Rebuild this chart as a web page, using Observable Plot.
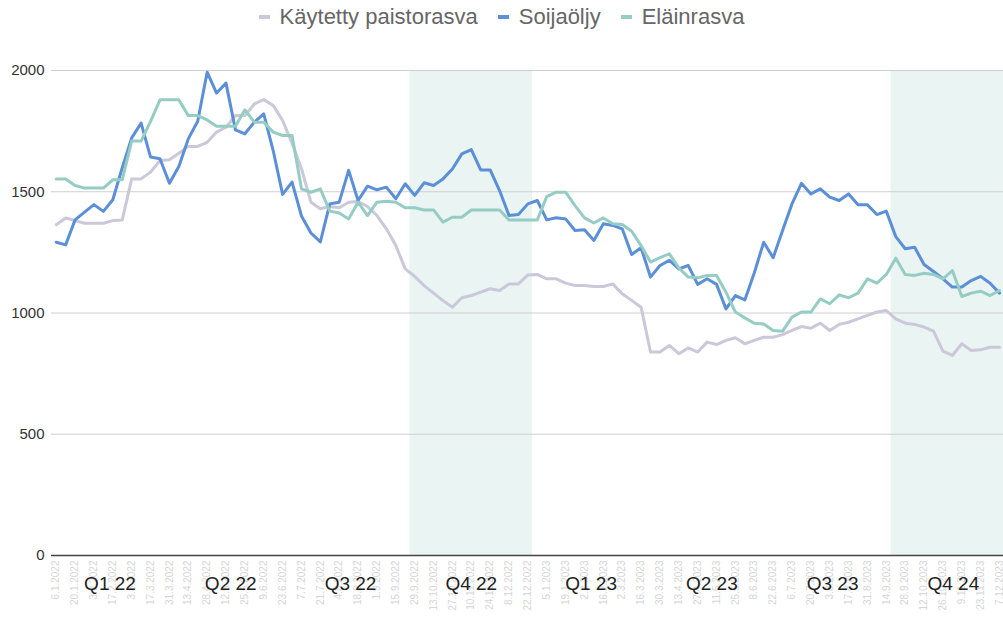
<!DOCTYPE html>
<html>
<head>
<meta charset="utf-8">
<script src="https://cdn.jsdelivr.net/npm/d3@7"></script>
<script src="https://cdn.jsdelivr.net/npm/@observablehq/plot@0.6"></script>
<style>
  body { margin: 0; background: #fff; font-family: "Liberation Sans", Arial, sans-serif; }
  #legend { height: 40px; display: flex; justify-content: center; align-items: center; padding-bottom: 6px; box-sizing: border-box; }
  .item { display: flex; align-items: center; margin: 0 10px; font-size: 22px; color: #666; }
  .sw { display: inline-block; width: 11px; height: 4px; margin-right: 10px; }
</style>
</head>
<body>
<div id="legend"></div>
<div id="chart"></div>
<script>
// Series names and colours
const seriesNames = ["Käytetty paistorasva", "Soijaöljy", "Eläinrasva"];
const seriesColors = ["#cac8d9", "#5b8fd8", "#95cdc4"];

// Weekly values, week index 0..100
const kaytettyPaistorasva = [
  1364,1392,1381,1370,1370,1370,1381,1384,1553,1553,1581,1629,1632,1659,1687,1687,1704,1746,1766,1814,1814,1862,1880,1856,1794,1700,
  1595,1457,1430,1439,1434,1457,1460,1439,1402,1347,1278,1182,1151,1113,1082,1051,1024,1063,1072,1086,1100,1093,1120,1120,
  1157,1159,1141,1141,1123,1113,1113,1109,1109,1120,1079,1052,1024,839,839,866,832,856,839,880,870,887,898,873,887,
  900,900,911,928,944,937,958,928,953,962,976,990,1004,1010,976,958,953,942,925,843,825,873,845,848,859,859
];
const soijaoljy = [
  1292,1281,1384,1416,1447,1419,1467,1599,1722,1783,1643,1636,1535,1604,1718,1791,1993,1907,1948,1755,1739,1787,1821,1670,1489,1540,
  1400,1330,1293,1450,1457,1588,1464,1523,1508,1519,1471,1533,1485,1537,1526,1553,1594,1656,1674,1590,1590,1505,1402,1406,
  1450,1464,1384,1393,1388,1340,1343,1299,1368,1361,1347,1241,1269,1148,1196,1217,1182,1196,1118,1141,1118,1017,1072,1054,1165,
  1292,1228,1340,1450,1535,1491,1512,1478,1464,1491,1446,1446,1406,1420,1315,1265,1271,1200,1171,1141,1107,1107,1134,1151,1123,1082
];
const elainrasva = [
  1553,1553,1526,1515,1515,1515,1549,1549,1709,1709,1790,1879,1879,1879,1814,1814,1796,1770,1770,1770,1838,1787,1787,1746,1732,1732,
  1512,1498,1512,1420,1412,1388,1457,1402,1457,1461,1457,1434,1434,1425,1425,1375,1395,1395,1425,1425,1425,1425,1384,1384,
  1384,1384,1480,1498,1498,1443,1392,1371,1392,1368,1365,1337,1278,1210,1228,1244,1186,1148,1145,1155,1155,1086,1004,980,958,955,
  928,925,983,1004,1004,1058,1038,1075,1063,1082,1141,1123,1159,1226,1159,1155,1164,1159,1141,1175,1068,1082,1090,1072,1093
];

// Tick labels (every second week)
const weekLabels = [
  "6.1.2022","20.1.2022","3.2.2022","17.2.2022","3.3.2022","17.3.2022","31.3.2022","13.4.2022","28.4.2022","12.5.2022",
  "25.5.2022","9.6.2022","23.6.2022","7.7.2022","21.7.2022","4.8.2022","18.8.2022","1.9.2022","15.9.2022","29.9.2022",
  "13.10.2022","27.10.2022","10.11.2022","24.11.2022","8.12.2022","22.12.2022","5.1.2023","19.1.2023","2.2.2023","16.2.2023",
  "2.3.2023","16.3.2023","30.3.2023","13.4.2023","27.4.2023","11.5.2023","25.5.2023","8.6.2023","22.6.2023","6.7.2023",
  "20.7.2023","3.8.2023","17.8.2023","31.8.2023","14.9.2023","28.9.2023","12.10.2023","26.10.2023","9.11.2023","23.11.2023",
  "7.12.2023"
];

// Quarter labels and the week index ranges they cover
const quarterNames = ["Q1 22","Q2 22","Q3 22","Q4 22","Q1 23","Q2 23","Q3 23","Q4 24"];
const quarterFirstWeek = [0, 13, 26, 38, 51, 64, 77, 89];
const quarterLastWeek  = [12, 25, 37, 50, 63, 76, 88, 101];
const quarterLabelWeek = [5.7, 18.5, 31.2, 44, 56.7, 69.5, 82.3, 95.1];
const shadedQuarters = ["Q4 22", "Q4 24"];

// ---- build tables ----
const allSeries = [kaytettyPaistorasva, soijaoljy, elainrasva];
const rows = [];
allSeries.forEach((vals, si) => vals.forEach((v, k) => rows.push({week: k, value: v, series: seriesNames[si]})));

const quarters = quarterNames.map((n, i) => ({
  name: n,
  x1: quarterFirstWeek[i] - 0.5,
  x2: quarterLastWeek[i] + 0.5,
  mid: quarterLabelWeek[i]
}));
const shaded = quarters.filter(q => shadedQuarters.includes(q.name));
const tickWeeks = weekLabels.map((_, i) => i * 2);

// legend
const legend = document.getElementById("legend");
seriesNames.forEach((n, i) => {
  const it = document.createElement("div");
  it.className = "item";
  it.innerHTML = `<span class="sw" style="background:${seriesColors[i]}"></span><span>${n}</span>`;
  legend.appendChild(it);
});

const chart = Plot.plot({
  width: 1003,
  height: 580,
  marginLeft: 51,
  marginRight: 0,
  marginTop: 30,
  marginBottom: 65,
  style: { fontFamily: '"Liberation Sans", Arial, sans-serif', background: "#fff", overflow: "visible" },
  x: { type: "linear", domain: [-0.5, 100.42], axis: null },
  y: { domain: [0, 2000], axis: null },
  color: { domain: seriesNames, range: seriesColors },
  marks: [
    Plot.rect(shaded, { x1: "x1", x2: "x2", y1: 0, y2: 2000, fill: "#eaf4f2", clip: true }),
    Plot.ruleY([500, 1000, 1500, 2000], { stroke: "#cfcfcf", strokeWidth: 1 }),
    Plot.axisY({ ticks: [0, 500, 1000, 1500, 2000], label: null, tickSize: 0, tickPadding: 7, fontSize: 15, fill: "#333", tickFormat: d => String(d) }),
    Plot.axisX({ ticks: tickWeeks, label: null, tickFormat: k => weekLabels[k / 2], tickRotate: -90, tickSize: 0, tickPadding: 5, fontSize: 10, fill: "#d6d6d6" }),
    Plot.line(rows, { x: "week", y: "value", z: "series", stroke: "series", strokeWidth: 3, strokeLinejoin: "round", clip: true }),
    Plot.ruleY([0], { stroke: "#444", strokeWidth: 1.5 }),
    Plot.text(quarters, { x: "mid", y: 0, dy: 28, text: "name", fontSize: 19, fill: "#222" })
  ]
});
document.getElementById("chart").appendChild(chart);
</script>
</body>
</html>
